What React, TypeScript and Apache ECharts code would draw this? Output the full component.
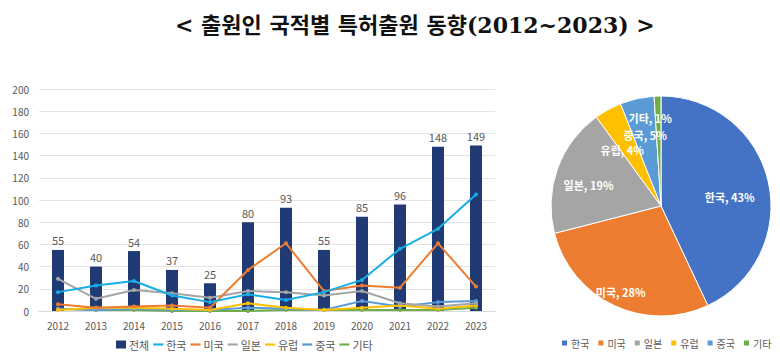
import React, { useEffect, useRef } from "react";
import * as echarts from "echarts";

const years = ["2012", "2013", "2014", "2015", "2016", "2017", "2018", "2019", "2020", "2021", "2022", "2023"];
const totalVals = [55, 40, 54, 37, 25, 80, 93, 55, 85, 96, 148, 149];
const koreaVals = [17, 23, 27, 14, 8, 15, 10, 17, 28, 56, 74, 105];
const usVals = [6, 3, 4, 5, 3, 37, 61, 18, 23, 21, 61, 22];
const japanVals = [29, 11, 19, 16, 12, 18, 17, 14, 18, 7, 4, 7];
const europeVals = [1, 3, 3, 2, 1, 7, 3, 1, 3, 5, 2, 5];
const chinaVals = [2, 1, 2, 1, 1, 3, 2, 1, 9, 4, 8, 9];
const otherVals = [2, 1, 1, 0, 0, 0, 1, 1, 1, 1, 1, 3];
const yTicks = { min: 0, max: 200, interval: 20 };

const pieNames = ["한국", "미국", "일본", "유럽", "중국", "기타"];
const pieVals = [43, 28, 19, 4, 5, 1];

const FONT = "'Noto Sans CJK KR', 'Noto Sans', sans-serif";
const TITLE_FONT = "'DejaVu Serif', 'Noto Sans CJK KR', serif";
const lineColors = ["#17AEE8", "#ED7D31", "#A5A5A5", "#FFC000", "#5B9BD5", "#70AD47"];
const pieColors = ["#4472C4", "#ED7D31", "#A5A5A5", "#FFC000", "#5B9BD5", "#70AD47"];
// radial placement fraction and small nudges for each pie label (Excel best-fit look)
const labelRadiusFrac = [0.64, 0.86, 0.7, 0.58, 0.66, 0.8];
const labelNudgeX = [0, 0, 0, -8, 0, -8];
const labelNudgeY = [6, 0, 5, 0, 0, 0];

export default function App() {
  const leftRef = useRef<HTMLDivElement>(null);
  const pieRef = useRef<HTMLDivElement>(null);

  useEffect(() => {
    const c1 = echarts.init(leftRef.current!, null, { renderer: "svg" });
    const lineNames = ["한국", "미국", "일본", "유럽", "중국", "기타"];
    const lineData = [koreaVals, usVals, japanVals, europeVals, chinaVals, otherVals];
    const lineIcon = "path://M0,0 L12,0 L12,2.6 L0,2.6 Z";
    c1.setOption({
      animation: false,
      textStyle: { fontFamily: FONT },
      title: {
        text: "< 출원인 국적별 특허출원 동향(2012~2023) >",
        left: 170,
        top: 9,
        textStyle: { fontSize: 22, fontWeight: "bold", color: "#111", fontFamily: TITLE_FONT },
      },
      grid: { left: 39, right: 285, top: 89, bottom: 42 },
      legend: {
        bottom: 3,
        left: 116,
        padding: 0,
        itemGap: 4,
        itemWidth: 10,
        itemHeight: 8,
        textStyle: { fontSize: 11, color: "#595959", fontFamily: FONT, padding: [0, 0, 0, -2] },
        data: [
          { name: "전체", icon: "rect" },
          ...lineNames.map((n) => ({ name: n, icon: lineIcon })),
        ],
      },
      xAxis: {
        type: "category",
        data: years,
        axisLine: { lineStyle: { color: "#d9d9d9" } },
        axisTick: { show: false },
        axisLabel: { fontSize: 10, color: "#595959", margin: 9 },
      },
      yAxis: {
        type: "value",
        min: yTicks.min,
        max: yTicks.max,
        interval: yTicks.interval,
        axisLine: { show: false },
        axisTick: { show: false },
        axisLabel: { fontSize: 10, color: "#595959", margin: 10 },
        splitLine: { lineStyle: { color: "#e4e4e4" } },
      },
      series: [
        {
          name: "전체",
          type: "bar",
          data: totalVals,
          barWidth: 12,
          itemStyle: { color: "#203A74" },
          label: { show: true, position: "top", fontSize: 11, color: "#595959", distance: 4 },
          z: 1,
        },
        ...lineNames.map((n, i) => ({
          name: n,
          type: "line",
          data: lineData[i],
          symbol: "circle",
          symbolSize: 4,
          lineStyle: { width: 2, color: lineColors[i] },
          itemStyle: { color: lineColors[i] },
          z: 10 - i,
        })),
      ],
    });

    const c2 = echarts.init(pieRef.current!, null, { renderer: "svg" });
    const cx = 121;
    const cy = 126;
    const R = 110;
    const total = pieVals.reduce((a, b) => a + b, 0);
    const mids: number[] = [];
    let acc = 0;
    pieVals.forEach((v) => {
      mids.push(((acc + v / 2) / total) * Math.PI * 2);
      acc += v;
    });
    c2.setOption({
      animation: false,
      textStyle: { fontFamily: FONT },
      legend: {
        bottom: 5,
        left: 20,
        padding: 0,
        itemGap: 7,
        itemWidth: 7,
        itemHeight: 7,
        icon: "rect",
        textStyle: { fontSize: 10, color: "#595959", fontFamily: FONT, padding: [0, 0, 0, -2] },
        data: pieNames,
      },
      series: [
        {
          type: "pie",
          center: [cx, cy],
          radius: [0, R],
          startAngle: 90,
          clockwise: true,
          data: pieNames.map((n, i) => ({ name: n, value: pieVals[i], itemStyle: { color: pieColors[i] } })),
          itemStyle: { borderColor: "#fff", borderWidth: 1 },
          label: {
            show: true,
            position: "inside",
            formatter: "{b}, {d}%",
            color: "#fff",
            fontSize: 11,
            fontWeight: "bold",
            fontFamily: FONT,
          },
          labelLine: { show: false },
          labelLayout: (p: any) => {
            const i = p.dataIndex;
            const a = mids[i];
            const r = R * labelRadiusFrac[i];
            return {
              x: cx + r * Math.sin(a) + labelNudgeX[i],
              y: cy - r * Math.cos(a) + labelNudgeY[i],
              align: "center",
              verticalAlign: "middle",
            };
          },
        },
      ],
    });

    return () => {
      c1.dispose();
      c2.dispose();
    };
  }, []);

  return (
    <div style={{ position: "absolute", left: 0, top: 0, width: 780, height: 353, background: "#fff" }}>
      <div ref={leftRef} style={{ position: "absolute", left: 0, top: 0, width: 780, height: 353 }} />
      <div ref={pieRef} style={{ position: "absolute", left: 540, top: 80, width: 240, height: 273 }} />
    </div>
  );
}
